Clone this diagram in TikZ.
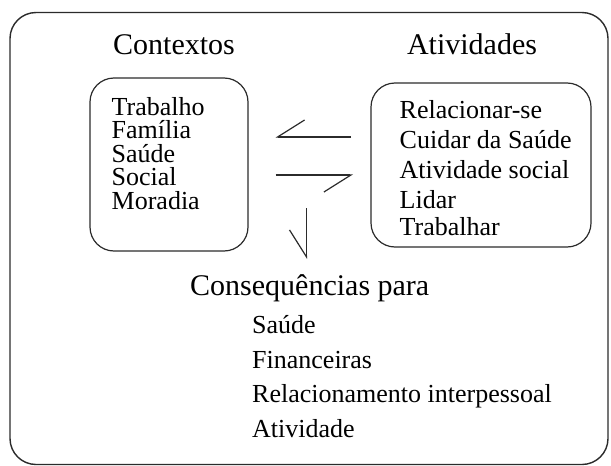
\documentclass[tikz,border=0pt]{standalone}
\usepackage{fontspec}
\setmainfont{Liberation Serif}
\usetikzlibrary{arrows.meta, positioning}
\definecolor{dline}{HTML}{2B2B2B}
\tikzset{
  outerbox/.style={draw=dline, line width=1.4pt, rounded corners=26pt},
  listbox/.style={draw=dline, line width=1.2pt, rounded corners=24pt},
  heading/.style={font=\fontsize{30}{30}\selectfont, anchor=base, inner sep=0pt},
  entry/.style={font=\fontsize{26}{26}\selectfont, anchor=base west, inner sep=0pt},
  harp/.style={draw=dline, line width=1.2pt, -{Straight Barb[right, length=27pt, width=34pt]}},
}
\begin{document}
\begin{tikzpicture}[x=1pt, y=-1pt]
  \useasboundingbox (0,0) rectangle (611,466);
  % Moldura
  \node[outerbox, minimum width=598pt, minimum height=452pt] (all) at (309,238.5) {};
  % Contextos
  \node[heading] (ctxh) at (174,54) {Contextos};
  \node[listbox, minimum width=158pt, minimum height=173pt] (ctx) at (169,164.5) {};
  \node[entry] (c1) at (111.5,115)   {Trabalho};
  \node[entry] (c2) at (111.5,138.5) {Família};
  \node[entry] (c3) at (111.5,162)   {Saúde};
  \node[entry] (c4) at (111.5,185.5) {Social};
  \node[entry] (c5) at (111.5,209)   {Moradia};
  % Atividades
  \node[heading] (atvh) at (472,54) {Atividades};
  \node[listbox, minimum width=220pt, minimum height=164pt] (atv) at (481,165) {};
  \node[entry] (a1) at (399.5,118) {Relacionar-se};
  \node[entry] (a2) at (399.5,148) {Cuidar da Saúde};
  \node[entry] (a3) at (399.5,178) {Atividade social};
  \node[entry] (a4) at (399.5,208) {Lidar};
  \node[entry] (a5) at (399.5,235) {Trabalhar};
  % Consequências
  \node[heading, anchor=base west] (csq) at (190,295) {Consequências para};
  \node[entry] (q1) at (252,333) {Saúde};
  \node[entry] (q2) at (252,368) {Financeiras};
  \node[entry] (q3) at (252,402) {Relacionamento interpessoal};
  \node[entry] (q4) at (252,437) {Atividade};
  % Setas (meia ponta)
  \coordinate (inA)  at (351,137);
  \coordinate (inB)  at (275.5,137);
  \coordinate (outA) at (275.5,175);
  \coordinate (outB) at (353,175);
  \coordinate (dnA)  at (306.5,208);
  \coordinate (dnB)  at (306.5,259);
  \draw[harp] (inA) -- (inB);
  \draw[harp] (outA) -- (outB);
  \draw[harp] (dnA) -- (dnB);
\end{tikzpicture}
\end{document}
